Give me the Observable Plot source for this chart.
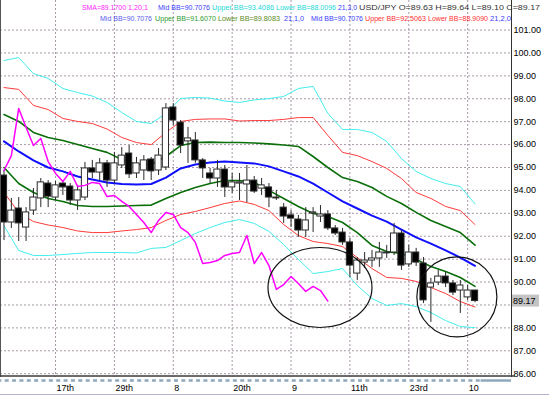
<!DOCTYPE html>
<html><head><meta charset="utf-8">
<script src="https://cdn.jsdelivr.net/npm/d3@7"></script>
<script src="https://cdn.jsdelivr.net/npm/@observablehq/plot@0.6"></script>
<style>body{margin:0;background:#fff}#chart{width:549px;height:395px;overflow:hidden}</style>
</head><body><div id="chart"></div>
<script>
// ---- Candles (USD/JPY) ----
const opens = [94.65,92.60,93.21,92.38,93.12,93.65,94.30,93.69,94.30,94.17,
93.56,93.69,94.96,94.78,95.18,94.43,95.09,95.61,94.74,94.87,
95.35,94.87,95.00,97.62,96.96,96.14,96.18,95.31,94.74,94.52,
94.91,94.13,94.30,94.26,94.43,94.08,94.13,93.65,93.25,92.91,
92.73,92.25,92.99,92.86,92.95,92.34,92.16,91.73,90.37,90.85,
90.94,91.03,91.25,91.29,92.12,90.77,91.29,90.81,89.76,89.98,
90.24,89.94,89.63,89.33,89.63];
const highs = [94.87,93.65,93.69,93.25,94.08,94.52,94.43,94.39,94.43,94.30,
94.22,95.22,95.31,95.39,95.31,95.66,95.87,95.96,95.44,95.52,
95.44,95.83,97.79,97.79,97.05,96.75,96.53,95.39,94.96,95.31,
95.09,94.74,94.74,95.09,94.61,94.52,94.30,94.00,93.43,93.12,
92.91,93.25,93.25,93.34,93.12,92.47,92.34,91.90,91.07,91.29,
91.38,91.73,91.60,92.56,92.25,91.60,91.47,91.07,90.16,90.51,
90.42,90.07,90.07,89.85,89.64];
const lows = [91.81,92.34,91.77,91.77,92.91,93.25,93.25,93.56,93.78,93.34,
93.12,93.56,94.52,94.43,94.13,94.30,94.96,94.52,94.52,94.43,
94.43,94.65,94.87,96.83,95.61,95.18,95.18,94.52,94.30,94.13,
93.69,93.87,93.56,93.47,93.87,93.78,93.25,93.56,92.56,92.38,
91.95,91.95,92.16,92.60,92.25,92.03,91.60,90.20,90.07,90.59,
90.64,90.64,91.03,91.16,90.51,90.64,90.68,89.06,88.24,89.85,
89.76,89.41,88.63,89.20,89.10];
const closes = [92.60,93.12,92.56,93.04,93.69,94.35,93.73,94.22,94.13,93.56,
94.00,94.96,94.78,95.18,94.43,95.18,95.52,94.70,95.18,95.31,
94.83,95.52,97.58,97.05,95.96,96.27,95.31,94.96,94.52,94.91,
94.13,94.35,94.35,94.43,93.95,94.22,93.69,93.69,92.86,92.77,
92.25,92.69,93.04,92.95,92.34,92.12,91.73,90.72,90.94,90.94,
91.03,91.29,91.29,92.12,90.72,91.29,90.85,89.20,89.94,90.24,
89.94,89.54,89.85,89.63,89.17];

// ---- SMA(1) shifted 20 (magenta) ----
const sma = [94.87,95.52,97.58,96.75,95.96,96.27,95.26,94.74,94.39,94.83,
94.17,94.22,94.35,94.30,93.73,93.78,93.52,93.30,92.95,92.60,
92.16,92.69,93.04,92.95,92.38,92.16,91.73,90.81,90.85,90.94,
91.16,91.25,91.29,92.03,90.81,91.29,90.72,89.68,89.89,90.24,
89.94,89.59,89.81,89.63,89.17];

// ---- Bollinger bands (read every 2nd bar) ----
const bbIdx = [0,2,4,6,8,10,12,14,16,18,20,22,24,26,28,30,32,34,36,38,40,42,44,46,48,50,52,54,56,58,60,62,64];
const bbMid = [96.14,95.70,95.31,95.00,94.83,94.61,94.48,94.35,94.28,94.26,94.28,94.56,94.96,95.13,95.22,95.26,95.22,95.18,95.05,94.83,94.61,94.30,93.91,93.52,93.21,92.90,92.64,92.29,91.95,91.68,91.38,91.07,90.71];
const bbUp1 = [97.31,97.01,96.53,96.31,96.18,96.00,95.83,95.66,95.35,95.13,95.13,95.48,95.96,96.09,96.11,96.09,96.09,96.07,96.03,95.98,95.92,95.48,95.00,94.56,94.39,94.13,93.74,93.43,93.04,92.69,92.43,92.16,91.61];
const bbLo1 = [95.00,94.30,93.91,93.65,93.52,93.34,93.30,93.30,93.32,93.34,93.36,93.65,93.91,94.13,94.30,94.43,94.43,94.35,94.00,93.65,93.30,92.99,92.86,92.60,92.16,91.60,91.33,91.25,90.99,90.68,90.46,90.20,89.81];
const bbUp2 = [98.49,98.41,97.71,97.53,97.14,97.01,96.92,96.68,96.31,96.09,96.00,96.53,97.01,97.10,97.12,97.12,97.03,97.05,97.05,97.10,97.18,97.18,96.40,95.66,95.52,95.26,94.96,94.52,93.91,93.65,93.30,93.12,92.51];
const bbLo2 = [93.91,93.04,92.64,92.49,92.38,92.23,92.16,92.16,92.23,92.29,92.38,92.69,92.95,93.08,93.25,93.43,93.54,93.39,93.12,92.51,92.03,91.77,91.68,91.55,91.07,90.59,90.20,90.16,90.03,89.76,89.50,89.15,88.91];
const bbUp3 = [99.67,99.80,99.10,98.89,98.45,98.27,98.12,97.84,97.40,97.01,96.92,97.36,98.01,98.06,98.03,97.90,97.84,97.95,98.01,98.10,98.45,98.54,97.36,96.66,96.66,96.53,96.14,95.39,94.83,94.52,94.30,94.17,93.41];
const bbLo3 = [92.45,91.38,91.16,91.16,91.20,91.25,91.29,91.29,91.29,91.27,91.47,91.51,91.81,92.12,92.38,92.60,92.73,92.56,92.21,91.64,90.99,90.37,90.46,90.59,89.85,89.28,88.98,89.06,88.93,88.67,88.32,88.06,88.01];

// ---- Axes ----
const xTickIdx = [7,15,23,31,39,47,55,63];
const xTickLabels = ["17th","29th","8","20th","9","11th","23rd","10"];
const yTicks = [86,87,88,89,90,91,92,93,94,95,96,97,98,99,100,101];
const yLabelTicks = [86,87,88,90,91,92,93,94,95,96,97,98,99,100,101]; // 89.00 is hidden under the price box
const lastPrice = 89.17;

// annotation ellipses (bar index, price)
const circleIdx = [43.0, 61.6];
const circlePrice = [89.74, 89.33];

// legend: text, colour
const legend1 = [
 ["SMA=89.1700","#ff22ff"],["1,20,1","#ff22ff"],["Mid BB=90.7076","#3a3aff"],
 ["Upper BB=93.4086","#22d8d8"],["Lower BB=88.0096","#22d8d8"],["21,3,0","#3a3aff"],
 ["USD/JPY O=89.63 H=89.64 L=89.10 C=89.17","#333333"]];
const legend2 = [
 ["Mid BB=90.7076","#5a5aee"],["Upper BB=91.6070","#2e9a2e"],["Lower BB=89.8083","#5a8a22"],
 ["21,1,0","#3a3aff"],["Mid BB=90.7076","#3a3aff"],["Upper BB=92.5063","#ff3030"],
 ["Lower BB=88.9090","#ff3030"],["21,2,0","#3a3aff"]];

const candles = opens.map((o,i)=>({i, open:o, high:highs[i], low:lows[i], close:closes[i]}));
const bands = bbIdx.map((i,k)=>({i, mid:bbMid[k], up1:bbUp1[k], lo1:bbLo1[k], up2:bbUp2[k], lo2:bbLo2[k], up3:bbUp3[k], lo3:bbLo3[k]}));
const smaRows = sma.map((v,k)=>({i:k, v}));

const W = 549, H = 395, mR = 38, mB = 18;
const grid = {stroke:"#a898a8", strokeDasharray:"2,2", strokeWidth:1};

const chart = Plot.plot({
  width: W, height: H,
  marginLeft: 0, marginRight: mR, marginTop: 0, marginBottom: mB,
  style: {fontFamily:"'Liberation Sans', Arial, sans-serif", fontSize:"9px", background:"#fff", color:"#000"},
  x: {type:"linear", domain:[-0.4755, 68.954]},
  y: {type:"linear", domain:[85.834, 102.29]},
  marks: [
    Plot.ruleY(yTicks, grid),
    Plot.ruleX(xTickIdx, grid),
    Plot.line(bands, {x:"i", y:"up3", stroke:"#44eeee", strokeWidth:1}),
    Plot.line(bands, {x:"i", y:"lo3", stroke:"#44eeee", strokeWidth:1}),
    Plot.line(bands, {x:"i", y:"up2", stroke:"#ff3b3b", strokeWidth:1}),
    Plot.line(bands, {x:"i", y:"lo2", stroke:"#ff3b3b", strokeWidth:1}),
    Plot.line(bands, {x:"i", y:"up1", stroke:"#0a6e0a", strokeWidth:1.6}),
    Plot.line(bands, {x:"i", y:"lo1", stroke:"#0a6e0a", strokeWidth:1.6}),
    Plot.line(bands, {x:"i", y:"mid", stroke:"#1010ff", strokeWidth:2}),
    Plot.ruleX(candles, {x:"i", y1:"low", y2:"high", stroke:"#2a2a2a", strokeWidth:1}),
    Plot.rect(candles, {x1:d=>d.i-0.42, x2:d=>d.i+0.42, y1:"open", y2:"close",
      fill:d=>d.close<d.open?"#000":"#fff", stroke:"#2a2a2a", strokeWidth:1}),
    Plot.line(smaRows, {x:"i", y:"v", stroke:"#ff00ff", strokeWidth:1.5}),
    Plot.axisY({anchor:"right", ticks:yLabelTicks, tickFormat:d=>d.toFixed(2), tickSize:0, tickPadding:2, fontSize:9, fill:"#000", label:null}),
    Plot.axisX({anchor:"bottom", ticks:xTickIdx, tickFormat:d=>xTickLabels[xTickIdx.indexOf(d)], tickSize:0, tickPadding:7, textAnchor:"start", dx:1, fontSize:9, fill:"#000", label:null})
  ]
});
document.getElementById("chart").appendChild(chart);

const xs = chart.scale("x"), ys = chart.scale("y");
const svg = d3.select(chart);
const x1 = W - mR, yb = H - mB;
const FONT = "'Liberation Sans', Arial, sans-serif";

// frame lines
svg.append("line").attr("x1",x1+0.5).attr("x2",x1+0.5).attr("y1",0).attr("y2",yb).attr("stroke","#333");
svg.append("line").attr("x1",0.5).attr("x2",0.5).attr("y1",0).attr("y2",yb).attr("stroke","#555");
svg.append("line").attr("x1",0).attr("x2",x1+4).attr("y1",yb-1).attr("y2",yb-1).attr("stroke","#3a3a3a").attr("stroke-width",1.5);
// per-bar dashes under the axis
const lastX = xs.apply(candles.length-1)+6;
svg.append("line").attr("x1",0).attr("x2",lastX).attr("y1",yb+3.5).attr("y2",yb+3.5)
  .attr("stroke","#8fa8bc").attr("stroke-width",2.5).attr("stroke-dasharray","4,3.36").attr("stroke-dashoffset",2.66);
svg.append("line").attr("x1",lastX).attr("x2",x1).attr("y1",yb+3.5).attr("y2",yb+3.5)
  .attr("stroke","#8fa8bc").attr("stroke-width",2.5);
svg.append("line").attr("x1",0).attr("x2",W).attr("y1",H-0.5).attr("y2",H-0.5).attr("stroke","#b8b0d0");

// annotation ellipses
const radii = [[52,40],[40,40]];
circleIdx.forEach((ci,k)=>{
  svg.append("ellipse").attr("cx",xs.apply(ci)).attr("cy",ys.apply(circlePrice[k]))
    .attr("rx",radii[k][0]).attr("ry",radii[k][1]).attr("fill","none").attr("stroke","#111").attr("stroke-width",1.2);
});

// last price label
const yp = ys.apply(lastPrice);
svg.append("rect").attr("x",x1+1).attr("y",yp-6).attr("width",27).attr("height",12).attr("fill","#c4c4c4");
svg.append("text").attr("x",x1+2).attr("y",yp+3.5).attr("font-size",9).attr("fill","#000")
  .attr("text-anchor","start").attr("font-family",FONT).text(lastPrice.toFixed(2));

// legend text (layout: start x and width of each piece)
const legPos1 = [[82,44],[128,20],[158,52],[212,62],[276,60],[338,19],[359,181]];
const legPos2 = [[100,52],[155,61],[218,62],[284,20],[311,52],[365,61],[428,60],[490,21]];
function leg(rows, pos, base){
  rows.forEach(([t,c],k)=>{
    svg.append("text").attr("x",pos[k][0]).attr("y",base).attr("fill",c).attr("font-size",7)
      .attr("text-anchor","start").attr("font-family",FONT)
      .attr("textLength",pos[k][1]).attr("lengthAdjust","spacingAndGlyphs").text(t);
  });
}
leg(legend1, legPos1, 10);
leg(legend2, legPos2, 20.5);
</script>
</body></html>
